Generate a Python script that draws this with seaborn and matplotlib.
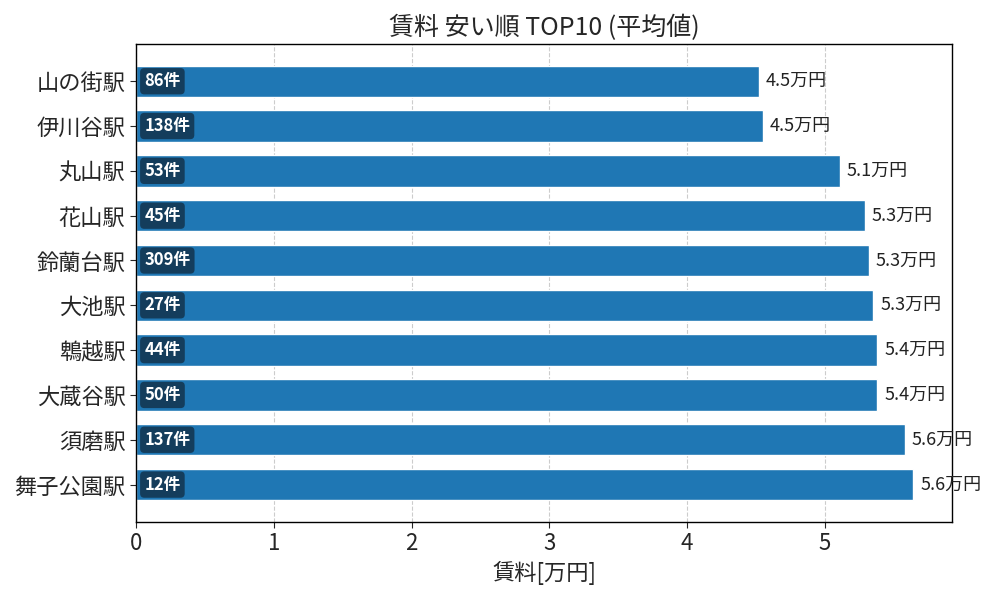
import pandas as pd
import seaborn as sns
import matplotlib.pyplot as plt

# 駅ごとの平均賃料(万円)と件数
stations = ['山の街駅', '伊川谷駅', '丸山駅', '花山駅', '鈴蘭台駅',
            '大池駅', '鵯越駅', '大蔵谷駅', '須磨駅', '舞子公園駅']
rent = [4.52, 4.55, 5.11, 5.29, 5.32, 5.35, 5.38, 5.38, 5.58, 5.64]
counts = [86, 138, 53, 45, 309, 27, 44, 50, 137, 12]

data = pd.DataFrame({'station': stations, 'rent': rent, 'count': counts})

sns.set_style('white')
plt.rcParams['font.family'] = ['Noto Sans CJK JP', 'DejaVu Sans']

fig, ax = plt.subplots(figsize=(10, 6), dpi=100)
sns.barplot(data=data, x='rent', y='station', orient='h', color='#1f77b4',
            saturation=1, width=0.7, ax=ax)

ax.set_xlim(0, max(rent) * 1.05)
ax.set_ylim(len(stations) - 1 + 0.835, -0.835)

# 件数ラベル(バーの内側)と賃料ラベル(バーの右)
for i, row in data.iterrows():
    ax.text(0.06, i, f"{row['count']}件", va='center', ha='left',
            color='white', fontsize=12, fontweight='bold',
            bbox=dict(boxstyle='round,pad=0.25', fc='#143d5c', ec='none'))
    ax.text(row['rent'] + 0.05, i, f"{row['rent']:.1f}万円", va='center',
            ha='left', fontsize=13, color='#222222')

ax.grid(axis='x', linestyle='--', color='#cccccc', linewidth=0.8)
ax.set_axisbelow(True)
ax.set_title('賃料 安い順 TOP10 (平均値)', fontsize=18)
ax.set_xlabel('賃料[万円]', fontsize=16)
ax.set_ylabel('')
ax.tick_params(axis='both', labelsize=16, length=4, left=True, bottom=True)
for s in ax.spines.values():
    s.set_color('black')
    s.set_linewidth(1)

plt.subplots_adjust(left=0.136, right=0.952, top=0.927, bottom=0.13)
plt.savefig('out.png', dpi=100)
plt.close()
